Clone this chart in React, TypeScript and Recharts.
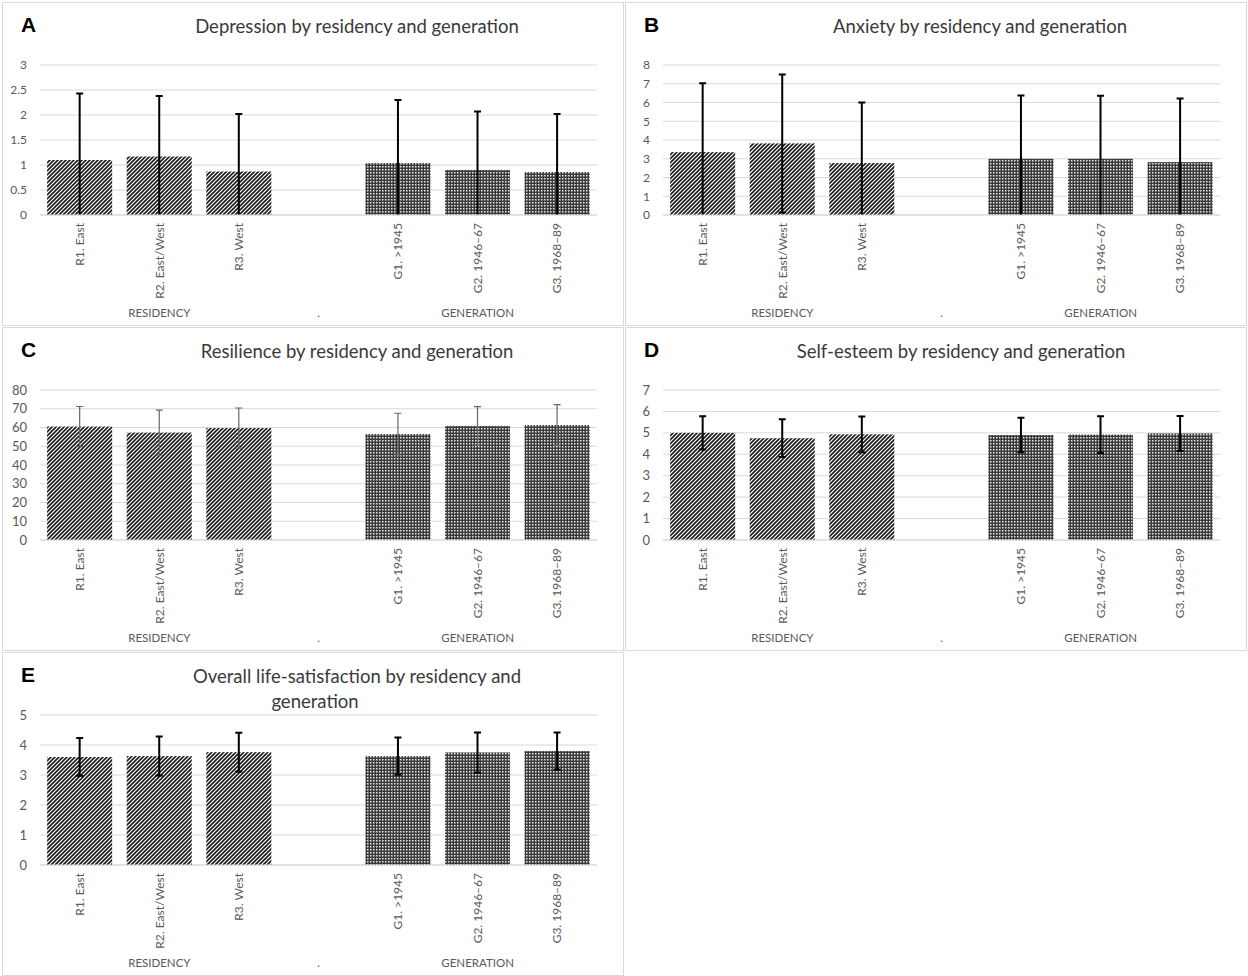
import { BarChart, Bar, XAxis, YAxis, CartesianGrid } from "recharts";

const categories = ["R1. East", "R2. East/West", "R3. West", "", "G1. >1945", "G2. 1946–67", "G3. 1968–89"];
const groupLabels = ["", "RESIDENCY", "", ".", "", "GENERATION", ""];
const patternIds = ["hatch", "hatch", "hatch", "", "checker", "checker", "checker"];

const depressionMean = [1.1, 1.17, 0.87, null, 1.04, 0.9, 0.86];
const depressionSd = [1.33, 1.21, 1.15, null, 1.26, 1.17, 1.16];
const depressionTicks = [0, 0.5, 1, 1.5, 2, 2.5, 3];

const anxietyMean = [3.35, 3.82, 2.77, null, 3.0, 3.0, 2.82];
const anxietySd = [3.68, 3.68, 3.23, null, 3.37, 3.36, 3.4];
const anxietyTicks = [0, 1, 2, 3, 4, 5, 6, 7, 8];

const resilienceMean = [60.5, 57.3, 59.7, null, 56.5, 60.8, 61.3];
const resilienceSd = [10.7, 12.0, 10.7, null, 11.1, 10.3, 10.9];
const resilienceTicks = [0, 10, 20, 30, 40, 50, 60, 70, 80];

const selfEsteemMean = [5.0, 4.75, 4.93, null, 4.9, 4.92, 4.97];
const selfEsteemSd = [0.78, 0.88, 0.83, null, 0.8, 0.86, 0.82];
const selfEsteemTicks = [0, 1, 2, 3, 4, 5, 6, 7];

const lifeSatMean = [3.6, 3.63, 3.76, null, 3.63, 3.75, 3.8];
const lifeSatSd = [0.63, 0.65, 0.65, null, 0.62, 0.67, 0.62];
const lifeSatTicks = [0, 1, 2, 3, 4, 5];

const FONT = "Lato, 'Open Sans', sans-serif";

const CategoryTick = (props: any) => {
  const { x, y, payload, index } = props;
  const i = payload?.index ?? index;
  return (
    <g>
      <text
        x={x}
        y={y}
        transform={`rotate(-90, ${x}, ${y})`}
        textAnchor="end"
        dy="0.35em"
        fill="#595959"
        fontSize={12}
        fontFamily={FONT}
      >
        {payload.value}
      </text>
      {groupLabels[i] ? (
        <text x={x} y={y + 90} textAnchor="middle" dy="0.35em" fill="#595959" fontSize={11.5} fontFamily={FONT}>
          {groupLabels[i]}
        </text>
      ) : null}
    </g>
  );
};

// bar filled with its pattern, plus a mean ± SD whisker cut off at the zero line
const makeBarShape = (errColor: string, errWidth: number) => (props: any) => {
  const { x, y, width, height, payload } = props;
  if (!payload || payload.mean == null || !height) return <g />;
  const perUnit = height / payload.mean;
  const cx = x + width / 2;
  const zero = y + height;
  const hi = payload.mean + payload.sd;
  const lo = Math.max(0, payload.mean - payload.sd);
  const yHi = zero - hi * perUnit;
  const yLo = zero - lo * perUnit;
  const cap = 3.5;
  return (
    <g>
      <rect x={x} y={y} width={width} height={height} fill={`url(#${payload.pattern})`} />
      <line x1={cx} x2={cx} y1={yHi} y2={yLo} stroke={errColor} strokeWidth={errWidth} />
      <line x1={cx - cap} x2={cx + cap} y1={yHi} y2={yHi} stroke={errColor} strokeWidth={errWidth} />
      {lo > 0 ? <line x1={cx - cap} x2={cx + cap} y1={yLo} y2={yLo} stroke={errColor} strokeWidth={errWidth} /> : null}
    </g>
  );
};

interface PanelProps {
  letter: string;
  titleLines: { text: string; cx: number }[];
  mean: (number | null)[];
  sd: (number | null)[];
  ticks: number[];
  left: number;
  top: number;
  errColor: string;
  errWidth: number;
  tickSize: number;
}

const Panel = ({ letter, titleLines, mean, sd, ticks, left, top, errColor, errWidth, tickSize }: PanelProps) => {
  const data = categories.map((cat, i) => ({ cat, mean: mean[i], sd: sd[i], pattern: patternIds[i] }));
  const W = 622;
  const H = 324;
  return (
    <div
      style={{
        position: "absolute",
        left,
        top,
        width: W,
        height: H,
        border: "1px solid #d9d9d9",
        boxSizing: "border-box",
        background: "#fff",
      }}
    >
      <div
        style={{
          position: "absolute",
          left: 18,
          top: 11,
          fontFamily: "'Liberation Sans', Arial, sans-serif",
          fontWeight: "bold",
          fontSize: 21,
          lineHeight: "21px",
          color: "#000",
        }}
      >
        {letter}
      </div>
      {titleLines.map((l, k) => (
        <div
          key={k}
          style={{
            position: "absolute",
            left: l.cx - 300,
            width: 600,
            top: 12 + k * 25,
            textAlign: "center",
            fontFamily: FONT,
            fontSize: 18.5,
            lineHeight: "22px",
            color: "#3a3a3a",
          }}
        >
          {l.text}
        </div>
      ))}
      <div style={{ position: "absolute", left: 0, top: 0 }}>
        <BarChart
          width={W - 2}
          height={H - 2}
          data={data}
          margin={{ top: 62, right: 26, bottom: 2, left: 7 }}
          barCategoryGap="9%"
        >
          <CartesianGrid vertical={false} stroke="#d9d9d9" />
          <XAxis
            dataKey="cat"
            interval={0}
            height={108}
            tickLine={false}
            tickSize={0}
            tickMargin={8}
            axisLine={{ stroke: "#d9d9d9" }}
            tick={<CategoryTick />}
          />
          <YAxis
            width={30}
            domain={[ticks[0], ticks[ticks.length - 1]]}
            ticks={ticks}
            interval={0}
            allowDataOverflow
            axisLine={false}
            tickLine={false}
            tickMargin={7}
            tick={{ fill: "#595959", fontSize: tickSize, fontFamily: FONT }}
          />
          <Bar dataKey="mean" isAnimationActive={false} shape={makeBarShape(errColor, errWidth)} />
        </BarChart>
      </div>
    </div>
  );
};

export default function App() {
  return (
    <div style={{ position: "absolute", left: 0, top: 0, width: 1248, height: 976, background: "#fff" }}>
      <svg width={0} height={0} style={{ position: "absolute" }}>
        <defs>
          <pattern id="hatch" patternUnits="userSpaceOnUse" width={4} height={4}>
            <rect width={4} height={4} fill="#fff" />
            <path d="M-1,1 l2,-2 M0,4 l4,-4 M3,5 l2,-2" stroke="#1a1a1a" strokeWidth={1.6} />
          </pattern>
          <pattern id="checker" patternUnits="userSpaceOnUse" width={3} height={3}>
            <rect width={3} height={3} fill="#3a3a3a" />
            <rect x={1} y={1} width={1.5} height={1.5} fill="#e8e8e8" />
          </pattern>
        </defs>
      </svg>
      <Panel
        letter="A"
        titleLines={[{ text: "Depression by residency and generation", cx: 354 }]}
        mean={depressionMean}
        sd={depressionSd}
        ticks={depressionTicks}
        left={2}
        top={2}
        errColor="#000"
        errWidth={2}
        tickSize={12}
      />
      <Panel
        letter="B"
        titleLines={[{ text: "Anxiety by residency and generation", cx: 354 }]}
        mean={anxietyMean}
        sd={anxietySd}
        ticks={anxietyTicks}
        left={625}
        top={2}
        errColor="#000"
        errWidth={2}
        tickSize={12}
      />
      <Panel
        letter="C"
        titleLines={[{ text: "Resilience by residency and generation", cx: 354 }]}
        mean={resilienceMean}
        sd={resilienceSd}
        ticks={resilienceTicks}
        left={2}
        top={327}
        errColor="#666"
        errWidth={1.2}
        tickSize={13}
      />
      <Panel
        letter="D"
        titleLines={[{ text: "Self-esteem by residency and generation", cx: 335 }]}
        mean={selfEsteemMean}
        sd={selfEsteemSd}
        ticks={selfEsteemTicks}
        left={625}
        top={327}
        errColor="#000"
        errWidth={2}
        tickSize={13}
      />
      <Panel
        letter="E"
        titleLines={[
          { text: "Overall life-satisfaction by residency and", cx: 354 },
          { text: "generation", cx: 312 },
        ]}
        mean={lifeSatMean}
        sd={lifeSatSd}
        ticks={lifeSatTicks}
        left={2}
        top={652}
        errColor="#000"
        errWidth={2}
        tickSize={13}
      />
    </div>
  );
}
